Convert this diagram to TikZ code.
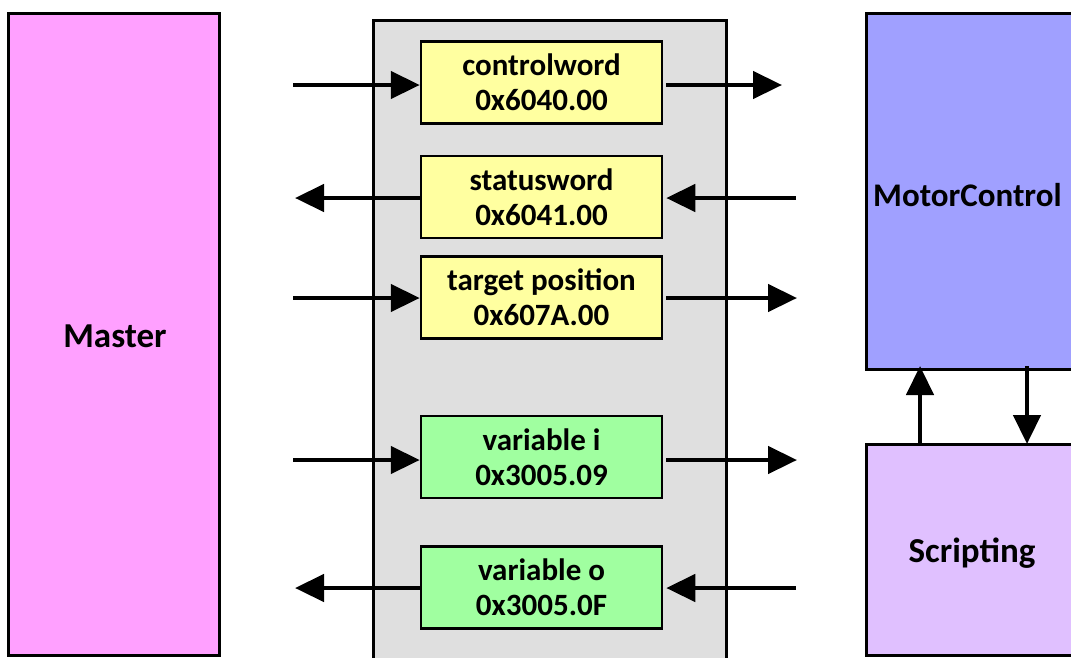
\documentclass[tikz,border=0pt]{standalone}
\usepackage{fontspec}
\setmainfont{Carlito}
\usetikzlibrary{arrows.meta}
\definecolor{masterc}{RGB}{255,160,255}
\definecolor{motorc}{RGB}{160,160,255}
\definecolor{scriptc}{RGB}{224,192,255}
\definecolor{grayc}{RGB}{223,223,223}
\definecolor{yellowc}{RGB}{255,255,160}
\definecolor{greenc}{RGB}{160,255,160}
\tikzset{
  bigbox/.style={draw=black, line width=3pt},
  objbox/.style={draw=black, line width=2.5pt, minimum width=241pt, minimum height=82pt, inner sep=0pt, align=center, font=\fontsize{31}{35}\selectfont\bfseries},
  flow/.style={line width=4.5pt, -{Triangle[length=29pt,width=27pt]}},
  lbl/.style={font=\fontsize{35}{40}\selectfont\bfseries}
}
\begin{document}
\begin{tikzpicture}[x=1pt,y=-1pt]
\useasboundingbox (0,0) rectangle (1071,657);
\clip (0,0) rectangle (1071,657);
% big boxes
\draw[bigbox, fill=masterc] (8,13) rectangle (219,655);
\node[lbl] (master) at (115,336) {Master};
\draw[bigbox, fill=grayc] (373,700) -- (373,20) -- (726,20) -- (726,700);
\draw[bigbox, fill=motorc] (866,13) rectangle (1090,369);
\node[lbl, font=\fontsize{33}{40}\selectfont\bfseries, anchor=west, inner xsep=0pt] (motor) at (873,195) {MotorControl};
\draw[bigbox, fill=scriptc] (866,444) rectangle (1090,655);
\node[lbl] (script) at (972,553) {Scripting};
\coordinate (mcb1) at (920,369);
\coordinate (mcb2) at (1027,369);
\coordinate (scb1) at (920,444);
\coordinate (scb2) at (1027,444);
% objects
\node[objbox, fill=yellowc] (cw) at (541.5,82.5) {controlword\\0x6040.00};
\node[objbox, fill=yellowc] (sw) at (541.5,197) {statusword\\0x6041.00};
\node[objbox, fill=yellowc] (tp) at (541.5,297.5) {target position\\0x607A.00};
\node[objbox, fill=greenc] (vi) at (541.5,457) {variable i\\0x3005.09};
\node[objbox, fill=greenc] (vo) at (541.5,587.5) {variable o\\0x3005.0F};
% free ends
\coordinate (cwL) at (293,85);  \coordinate (cwR) at (782,85);
\coordinate (swL) at (295,198); \coordinate (swR) at (796,198);
\coordinate (tpL) at (293,298); \coordinate (tpR) at (797,298);
\coordinate (viL) at (293,460); \coordinate (viR) at (797,460);
\coordinate (voL) at (295,588); \coordinate (voR) at (796,588);
% arrows
\draw[flow] (cwL) -- (cw.west |- cwL);
\draw[flow] ([xshift=3pt]cw.east |- cwR) -- (cwR);
\draw[flow] (sw.west |- swL) -- (swL);
\draw[flow] (swR) -- ([xshift=3pt]sw.east |- swR);
\draw[flow] (tpL) -- (tp.west |- tpL);
\draw[flow] ([xshift=3pt]tp.east |- tpR) -- (tpR);
\draw[flow] (viL) -- (vi.west |- viL);
\draw[flow] ([xshift=3pt]vi.east |- viR) -- (viR);
\draw[flow] (vo.west |- voL) -- (voL);
\draw[flow] (voR) -- ([xshift=3pt]vo.east |- voR);
\draw[flow] (scb1) -- ([yshift=3pt]mcb1);
\draw[flow] ([yshift=3pt]mcb2) -- (scb2);
\end{tikzpicture}
\end{document}
